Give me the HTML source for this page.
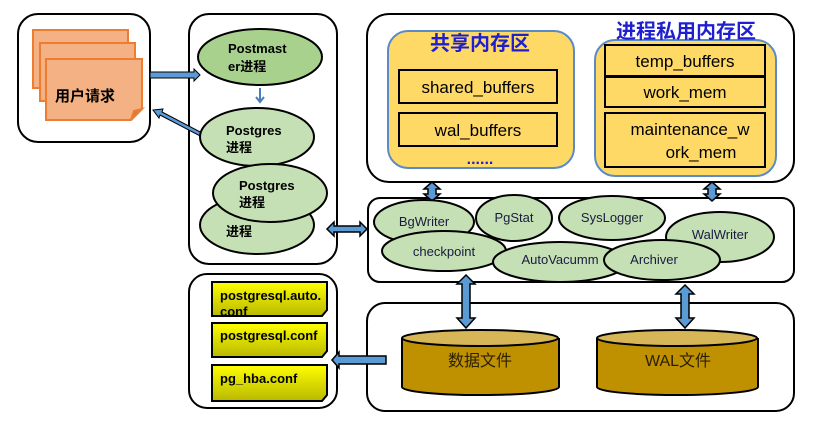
<!DOCTYPE html>
<html><head><meta charset="utf-8"><style>
html,body{margin:0;padding:0;background:#fff}
svg{display:block}
text{font-family:"Liberation Sans","Noto Sans CJK SC",sans-serif}
</style></head><body>
<svg width="821" height="437" viewBox="0 0 821 437" xmlns="http://www.w3.org/2000/svg">
<defs>
<linearGradient id="yg" x1="0" y1="0" x2="0" y2="1"><stop offset="0" stop-color="#ffff00"/><stop offset="1" stop-color="#b8b800"/></linearGradient>
</defs>
<g fill="#fff" stroke="#000" stroke-width="2">
<rect x="18" y="14" width="132" height="128" rx="20"/>
<rect x="189" y="14" width="148" height="250" rx="20"/>
<rect x="367" y="14" width="427" height="168" rx="22"/>
<rect x="368" y="198" width="426" height="84" rx="12"/>
<rect x="367" y="303" width="427" height="108" rx="18"/>
<rect x="189" y="274" width="148" height="134" rx="18"/>
</g>
<g fill="#f4b183" stroke="#ed7d31" stroke-width="2">
<rect x="33" y="30" width="95" height="58"/>
<rect x="40" y="43" width="95" height="58"/>
<path d="M46 59 H142 V109 L131 120 H46 Z"/>
<path d="M131 120 L134 111 L142 109 Z" fill="#d9793a"/>
</g>
<text x="55" y="101" font-size="15" font-weight="bold">用户请求</text>
<path d="M150 72 H194 V69 L200 75 L194 81 V78 H150 Z" fill="#5b9bd5" stroke="#000" stroke-width="1"/>
<path d="M206 135 L162 112 L163 109 L153 110 L159 118 L160 115 L204 138 Z" fill="#5b9bd5" stroke="#000" stroke-width="1"/>
<path d="M260 88 V101 M256 97 L260 102 L264 97" stroke="#4a7ebb" stroke-width="2" fill="none"/>
<g stroke="#000" stroke-width="2">
<ellipse cx="260" cy="57" rx="62" ry="28" fill="#a9d18e"/>
<ellipse cx="257" cy="137" rx="57" ry="29" fill="#c5e0b4"/>
<ellipse cx="257" cy="225" rx="57" ry="29" fill="#c5e0b4"/>
<ellipse cx="270" cy="193" rx="57" ry="29" fill="#c5e0b4"/>
</g>
<g font-size="13" font-weight="bold">
<text x="228" y="53">Postmast</text><text x="228" y="71">er进程</text>
<text x="226" y="135">Postgres</text><text x="226" y="152">进程</text>
<text x="239" y="190">Postgres</text><text x="239" y="207">进程</text>
<text x="226" y="236">进程</text>
</g>
<rect x="388" y="31" width="186" height="137" rx="20" fill="#ffd966" stroke="#5b8ac6" stroke-width="2"/>
<rect x="595" y="40" width="181" height="136" rx="20" fill="#ffd966" stroke="#5b8ac6" stroke-width="2"/>
<text x="480" y="50" font-size="20" font-weight="bold" fill="#1f1fd0" text-anchor="middle">共享内存区</text>
<text x="686" y="38" font-size="20" font-weight="bold" fill="#1f1fd0" text-anchor="middle">进程私用内存区</text>
<g fill="none" stroke="#000" stroke-width="2">
<rect x="399" y="70" width="158" height="33"/>
<rect x="399" y="113" width="158" height="33"/>
<rect x="605" y="45" width="160" height="31"/>
<rect x="605" y="77" width="160" height="30"/>
<rect x="605" y="113" width="160" height="54"/>
</g>
<g font-size="17" text-anchor="middle">
<text x="478" y="93">shared_buffers</text>
<text x="478" y="136">wal_buffers</text>
<text x="685" y="67">temp_buffers</text>
<text x="685" y="98">work_mem</text>
<text x="690" y="135">maintenance_w</text>
<text x="701" y="158">ork_mem</text>
</g>
<text x="480" y="164" font-size="16" font-weight="bold" fill="#1f1fd0" text-anchor="middle">......</text>
<g fill="#5b9bd5" stroke="#000" stroke-width="1.5">
<path d="M432 182 L440 189 H436 V194 H440 L432 201 L424 194 H428 V189 H424 Z"/>
<path d="M712 182 L720 189 H716 V194 H720 L712 201 L704 194 H708 V189 H704 Z"/>
<path d="M466 275 L475 284 H470 V318 H475 L466 328 L457 318 H462 V284 H457 Z"/>
<path d="M685 285 L694 294 H689 V318 H694 L685 328 L676 318 H681 V294 H676 Z"/>
<path d="M327 229 L334 222 V226 H360 V222 L367 229 L360 236 V232 H334 V236 Z"/>
<path d="M332 360 L339 352 V356 H386 V364 H339 V368 Z"/>
</g>
<g stroke="#000" stroke-width="2" fill="#c5e0b4">
<ellipse cx="424" cy="222" rx="50" ry="22"/>
<ellipse cx="514" cy="218" rx="38" ry="23"/>
<ellipse cx="612" cy="218" rx="53" ry="22"/>
<ellipse cx="720" cy="237" rx="54" ry="25"/>
<ellipse cx="444" cy="251" rx="62" ry="20"/>
<ellipse cx="560" cy="262" rx="67" ry="20"/>
<ellipse cx="662" cy="260" rx="58" ry="20"/>
</g>
<g font-size="13" fill="#1a1a40" text-anchor="middle">
<text x="424" y="226">BgWriter</text>
<text x="514" y="222">PgStat</text>
<text x="612" y="222">SysLogger</text>
<text x="720" y="239">WalWriter</text>
<text x="444" y="256">checkpoint</text>
<text x="560" y="264">AutoVacumm</text>
<text x="654" y="264">Archiver</text>
</g>
<g stroke="#000" stroke-width="2">
<path d="M402 338 V387 A78 8 0 0 0 559 387 V338" fill="#bf9000"/>
<ellipse cx="480" cy="338" rx="78" ry="8" fill="#d6b656"/>
<path d="M597 338 V387 A80 8 0 0 0 758 387 V338" fill="#bf9000"/>
<ellipse cx="677" cy="338" rx="80" ry="8" fill="#d6b656"/>
</g>
<g font-size="16" fill="#2a2000" text-anchor="middle">
<text x="480" y="366">数据文件</text>
<text x="678" y="366">WAL文件</text>
</g>
<g fill="url(#yg)" stroke="#000" stroke-width="2">
<path d="M212 282 H327 V310 L322 316 H212 Z"/>
<path d="M212 323 H327 V351 L322 357 H212 Z"/>
<path d="M212 365 H327 V395 L322 401 H212 Z"/>
</g>
<g font-size="13" font-weight="bold">
<text x="220" y="300">postgresql.auto.</text><text x="220" y="316">conf</text>
<text x="220" y="340">postgresql.conf</text>
<text x="220" y="383">pg_hba.conf</text>
</g>
</svg>
</body></html>
